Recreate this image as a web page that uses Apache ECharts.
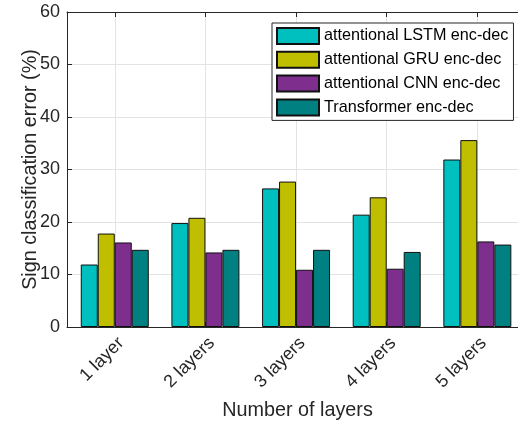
<!DOCTYPE html>
<html>
<head>
<meta charset="utf-8">
<script src="https://cdn.jsdelivr.net/npm/echarts@6/dist/echarts.min.js"></script>
<style>
  html, body { margin: 0; padding: 0; background: #fff; }
  #chart { width: 518px; height: 421px; }
</style>
</head>
<body>
<div id="chart"></div>
<script>
// Layer-count groups on the horizontal axis
const categories = ['1 layer', '2 layers', '3 layers', '4 layers', '5 layers'];
const positions = [1, 2, 3, 4, 5];

// Sign classification error (%) for each model
const lstmErr = [11.9, 19.8, 26.4, 21.4, 31.9];
const gruErr = [17.8, 20.8, 27.7, 24.7, 35.6];
const cnnErr = [16.1, 14.2, 10.9, 11.1, 16.3];
const transformerErr = [14.7, 14.7, 14.7, 14.3, 15.7];

const yTicks = [0, 10, 20, 30, 40, 50, 60];

const seriesNames = [
  'attentional LSTM enc-dec',
  'attentional GRU enc-dec',
  'attentional CNN enc-dec',
  'Transformer enc-dec'
];
const seriesValues = [lstmErr, gruErr, cnnErr, transformerErr];
const seriesColors = ['#00BFBF', '#BFBF00', '#7E2F8E', '#008080'];

const FONT = "'Liberation Sans', Arial, Helvetica, sans-serif";
const INK = '#262626';
const GRID_GREY = '#e3e3e3';

const chart = echarts.init(document.getElementById('chart'), null, { renderer: 'canvas' });

const xCommon = {
  type: 'value',
  min: 0.473,
  max: 5.559
};

const option = {
  backgroundColor: '#ffffff',
  animation: false,
  textStyle: { fontFamily: FONT, color: INK },
  grid: { left: 67, right: -10, top: 12, bottom: 94, containLabel: false, outerBoundsMode: 'none' },
  legend: {
    orient: 'vertical',
    left: 272,
    top: 23,
    padding: [4, 5, 4, 4],
    itemWidth: 42,
    itemHeight: 16,
    itemGap: 5.8,
    icon: 'rect',
    backgroundColor: '#ffffff',
    borderColor: INK,
    borderWidth: 1,
    borderRadius: 0,
    textStyle: { fontFamily: FONT, fontSize: 16.2, color: '#000' },
    data: seriesNames
  },
  xAxis: [
    Object.assign({}, xCommon, {
      position: 'bottom',
      name: 'Number of layers',
      nameLocation: 'middle',
      nameGap: 74,
      nameMoveOverlap: false,
      nameTextStyle: { fontFamily: FONT, fontSize: 19.8, color: INK },
      axisLine: { show: true, lineStyle: { color: INK, width: 1 } },
      axisTick: { show: true, inside: true, length: 5, customValues: positions, lineStyle: { color: INK } },
      axisLabel: {
        show: true,
        customValues: positions,
        rotate: 45,
        margin: 7,
        verticalAlign: 'top',
        fontFamily: FONT,
        fontSize: 18,
        color: INK,
        formatter: function (v) { return categories[Math.round(v) - 1] || ''; }
      },
      splitLine: { show: true, lineStyle: { color: GRID_GREY, width: 1 } }
    }),
    Object.assign({}, xCommon, {
      position: 'top',
      axisLine: { show: true, lineStyle: { color: INK, width: 1 } },
      axisTick: { show: true, inside: true, length: 5, customValues: positions, lineStyle: { color: INK } },
      axisLabel: { show: false },
      splitLine: { show: false }
    })
  ],
  yAxis: {
    type: 'value',
    min: yTicks[0],
    max: yTicks[yTicks.length - 1],
    interval: 10,
    name: 'Sign classification error (%)',
    nameLocation: 'middle',
    nameGap: 26,
    nameMoveOverlap: false,
    nameTextStyle: { fontFamily: FONT, fontSize: 19.8, color: INK },
    axisLine: { show: true, lineStyle: { color: INK, width: 1 } },
    axisTick: { show: true, inside: true, length: 5, lineStyle: { color: INK } },
    axisLabel: { fontFamily: FONT, fontSize: 18, color: INK, margin: 7 },
    splitLine: { show: true, lineStyle: { color: GRID_GREY, width: 1 } }
  },
  series: seriesNames.map(function (name, s) {
    return {
      name: name,
      type: 'bar',
      xAxisIndex: 0,
      barWidth: 17,
      barGap: '0%',
      itemStyle: { color: seriesColors[s], borderColor: '#111111', borderWidth: 1 },
      data: seriesValues[s].map(function (v, i) { return [positions[i], v]; })
    };
  })
};

chart.setOption(option);
</script>
</body>
</html>
